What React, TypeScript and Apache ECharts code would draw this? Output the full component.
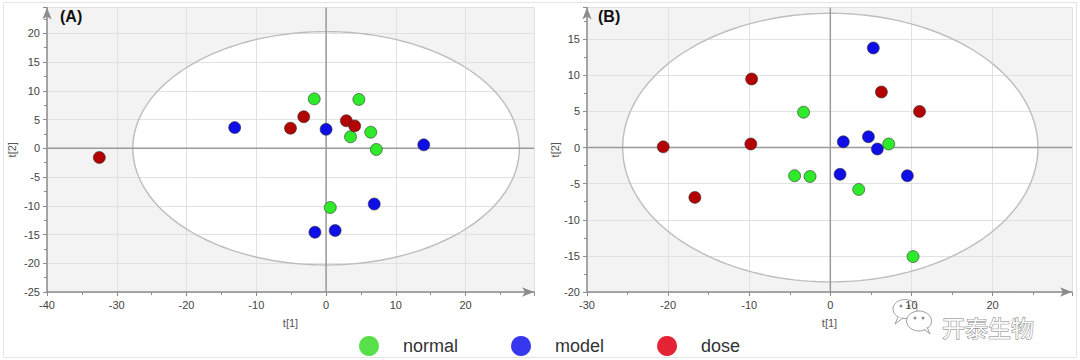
import React, { useEffect, useRef } from 'react';
import * as echarts from 'echarts';

// ---- data ----
const groups = ['normal', 'model', 'dose'];

const normalA = [[-1.7, 8.6], [4.7, 8.5], [6.4, 2.8], [3.5, 2.0], [7.2, -0.2], [0.6, -10.3]];
const modelA = [[-13.1, 3.6], [0.0, 3.3], [14.0, 0.6], [6.9, -9.7], [-1.6, -14.6], [1.3, -14.3]];
const doseA = [[-32.5, -1.6], [-3.2, 5.5], [-5.1, 3.5], [2.9, 4.8], [4.1, 3.9]];

const normalB = [[-3.3, 4.9], [-4.4, -3.9], [-2.5, -4.0], [7.2, 0.5], [3.5, -5.8], [10.2, -15.1]];
const modelB = [[5.3, 13.8], [1.6, 0.8], [4.7, 1.5], [5.8, -0.2], [1.2, -3.7], [9.5, -3.9]];
const doseB = [[-20.6, 0.1], [-9.7, 9.5], [-9.8, 0.5], [-16.7, -6.9], [6.3, 7.7], [11.0, 5.0]];

const xTicksA = [-40, -30, -20, -10, 0, 10, 20];
const yTicksA = [-25, -20, -15, -10, -5, 0, 5, 10, 15, 20];
const xTicksB = [-30, -20, -10, 0, 10, 20];
const yTicksB = [-20, -15, -10, -5, 0, 5, 10, 15];

const xRangeA = [-40, 29.8];
const yRangeA = [-25, 24.5];
const xRangeB = [-30, 29.8];
const yRangeB = [-20, 19.4];

// Hotelling ellipse semi-axes [t1, t2]
const ellipseA = [27.7, 20.3];
const ellipseB = [25.6, 18.6];

const pointColors = ['#2eea2a', '#0e0ee6', '#b20202'];
const legendColors = ['#58e04a', '#3737f0', '#e42434'];

const FONT = '"Liberation Sans", Arial, sans-serif';
const AXIS_COLOR = '#8c8c8c';

function ellipsePoints(api: any, ell: number[]) {
  const pts: number[][] = [];
  for (let i = 0; i <= 180; i++) {
    const t = (i / 180) * Math.PI * 2;
    pts.push(api.coord([ell[0] * Math.cos(t), ell[1] * Math.sin(t)]));
  }
  return pts;
}

function bgSeries(idx: number, ell: number[]) {
  return {
    type: 'custom',
    name: 'bg' + idx,
    xAxisIndex: idx,
    yAxisIndex: idx,
    z: -1,
    silent: true,
    clip: false,
    data: [[0, 0]],
    encode: { x: 0, y: 1 },
    renderItem: (params: any, api: any) => {
      const cs = params.coordSys;
      return {
        type: 'group',
        children: [
          { type: 'rect', shape: { x: cs.x, y: cs.y, width: cs.width, height: cs.height }, style: { fill: '#f3f3f3' } },
          { type: 'polygon', shape: { points: ellipsePoints(api, ell) }, style: { fill: '#ffffff' } },
        ],
      };
    },
  };
}

function overlaySeries(idx: number, ell: number[]) {
  return {
    type: 'custom',
    name: 'ov' + idx,
    xAxisIndex: idx,
    yAxisIndex: idx,
    z: 1,
    silent: true,
    clip: false,
    data: [[0, 0]],
    encode: { x: 0, y: 1 },
    renderItem: (params: any, api: any) => {
      const cs = params.coordSys;
      const o = api.coord([0, 0]);
      return {
        type: 'group',
        children: [
          { type: 'polygon', shape: { points: ellipsePoints(api, ell) }, style: { fill: 'none', stroke: '#bdbdbd', lineWidth: 1.4 } },
          { type: 'line', shape: { x1: cs.x, y1: o[1], x2: cs.x + cs.width, y2: o[1] }, style: { stroke: '#9a9a9a', lineWidth: 1.5 } },
          { type: 'line', shape: { x1: o[0], y1: cs.y, x2: o[0], y2: cs.y + cs.height }, style: { stroke: '#9a9a9a', lineWidth: 1.5 } },
        ],
      };
    },
  };
}

function scatter(name: string, data: number[][], idx: number, color: string) {
  return {
    type: 'scatter',
    name,
    xAxisIndex: idx,
    yAxisIndex: idx,
    z: 2,
    symbolSize: 12,
    data,
    itemStyle: { color, opacity: 1, borderColor: 'rgba(50,50,50,0.75)', borderWidth: 0.8 },
  };
}

function makeXAxis(idx: number, range: number[], ticks: number[]) {
  return {
    type: 'value',
    gridIndex: idx,
    min: range[0],
    max: range[1],
    interval: 10,
    name: 't[1]',
    nameLocation: 'middle',
    nameGap: 25,
    nameTextStyle: { fontSize: 11, color: '#555', fontFamily: FONT },
    axisLine: { show: true, onZero: false, symbol: ['none', 'arrow'], symbolSize: [7, 12], lineStyle: { color: AXIS_COLOR, width: 1.5 } },
    axisTick: { show: true, length: 4, lineStyle: { color: AXIS_COLOR } },
    minorTick: { show: true, splitNumber: 2, length: 3, lineStyle: { color: AXIS_COLOR } },
    axisLabel: { fontSize: 11, color: '#444', margin: 7, fontFamily: FONT, showMaxLabel: false, formatter: (v: number) => (ticks.includes(v) ? String(v) : '') },
    splitLine: { show: true, lineStyle: { color: '#e1e1e1', width: 1 } },
  };
}

function makeYAxis(idx: number, range: number[], ticks: number[], gap: number) {
  return {
    type: 'value',
    gridIndex: idx,
    min: range[0],
    max: range[1],
    interval: 5,
    name: 't[2]',
    nameLocation: 'middle',
    nameGap: gap,
    nameTextStyle: { fontSize: 11, color: '#555', fontFamily: FONT },
    axisLine: { show: true, onZero: false, symbol: ['none', 'arrow'], symbolSize: [7, 12], lineStyle: { color: AXIS_COLOR, width: 1.5 } },
    axisTick: { show: true, length: 4, lineStyle: { color: AXIS_COLOR } },
    minorTick: { show: true, splitNumber: 2, length: 3, lineStyle: { color: AXIS_COLOR } },
    axisLabel: { fontSize: 11, color: '#444', margin: 7, fontFamily: FONT, showMaxLabel: false, formatter: (v: number) => (ticks.includes(v) ? String(v) : '') },
    splitLine: { show: true, lineStyle: { color: '#e1e1e1', width: 1 } },
  };
}

export default function App() {
  const ref = useRef<HTMLDivElement>(null);

  useEffect(() => {
    if (!ref.current) return;
    const chart = echarts.init(ref.current, null, { renderer: 'svg' });
    const dataA = [normalA, modelA, doseA];
    const dataB = [normalB, modelB, doseB];
    const option: any = {
      animation: false,
      backgroundColor: '#ffffff',
      textStyle: { fontFamily: FONT },
      grid: [
        { left: 47, top: 7.5, right: 546, bottom: 68, containLabel: false },
        { left: 587, top: 7.5, right: 8, bottom: 68, containLabel: false },
      ],
      xAxis: [makeXAxis(0, xRangeA, xTicksA), makeXAxis(1, xRangeB, xTicksB)],
      yAxis: [makeYAxis(0, yRangeA, yTicksA, 30), makeYAxis(1, yRangeB, yTicksB, 27)],
      legend: {
        data: groups.map((g, i) => ({ name: g, itemStyle: { color: legendColors[i], borderWidth: 0 } })),
        left: 354,
        top: 331,
        icon: 'circle',
        itemWidth: 20,
        itemHeight: 20,
        itemGap: 53,
        selectedMode: false,
        textStyle: { fontSize: 18, color: '#333', fontFamily: FONT, padding: [0, 0, 0, 19] },
      },
      graphic: [
        { type: 'rect', z: -10, shape: { x: 3.5, y: 2.5, width: 1073, height: 355 }, style: { fill: 'none', stroke: '#e4e4e4', lineWidth: 1 } },
        { type: 'text', x: 60, y: 16, style: { text: '(A)', font: 'bold 16px "Liberation Sans", Arial, sans-serif', fill: '#111', verticalAlign: 'middle' } },
        { type: 'text', x: 598, y: 16, style: { text: '(B)', font: 'bold 16px "Liberation Sans", Arial, sans-serif', fill: '#111', verticalAlign: 'middle' } },
        // WeChat-like watermark logo
        { type: 'ellipse', shape: { cx: 905, cy: 309, rx: 12, ry: 9.5 }, style: { fill: '#ffffff', stroke: '#a0a0a0', lineWidth: 1 } },
        { type: 'polyline', shape: { points: [[898, 317], [895, 324], [903, 318]] }, style: { fill: '#ffffff', stroke: '#a0a0a0', lineWidth: 1 } },
        { type: 'circle', shape: { cx: 901, cy: 306, r: 1.5 }, style: { fill: '#909090' } },
        { type: 'circle', shape: { cx: 909, cy: 306, r: 1.5 }, style: { fill: '#909090' } },
        { type: 'ellipse', shape: { cx: 919, cy: 321, rx: 12.5, ry: 10 }, style: { fill: '#ffffff', stroke: '#a0a0a0', lineWidth: 1 } },
        { type: 'polyline', shape: { points: [[924, 329], [930, 334], [927, 327]] }, style: { fill: '#ffffff', stroke: '#a0a0a0', lineWidth: 1 } },
        { type: 'circle', shape: { cx: 915, cy: 318, r: 1.5 }, style: { fill: '#909090' } },
        { type: 'circle', shape: { cx: 923, cy: 318, r: 1.5 }, style: { fill: '#909090' } },
        { type: 'text', x: 942, y: 327, style: { text: '开泰生物', font: '23px "Noto Sans CJK SC", sans-serif', fill: '#fbfbfb', stroke: '#7d7d7d', lineWidth: 1, verticalAlign: 'middle' } },
      ],
      series: [
        bgSeries(0, ellipseA),
        bgSeries(1, ellipseB),
        overlaySeries(0, ellipseA),
        overlaySeries(1, ellipseB),
        ...groups.map((g, i) => scatter(g, dataA[i], 0, pointColors[i])),
        ...groups.map((g, i) => scatter(g, dataB[i], 1, pointColors[i])),
      ],
    };
    chart.setOption(option);
    return () => chart.dispose();
  }, []);

  return <div ref={ref} style={{ position: 'absolute', left: 0, top: 0, width: 1080, height: 360 }} />;
}
